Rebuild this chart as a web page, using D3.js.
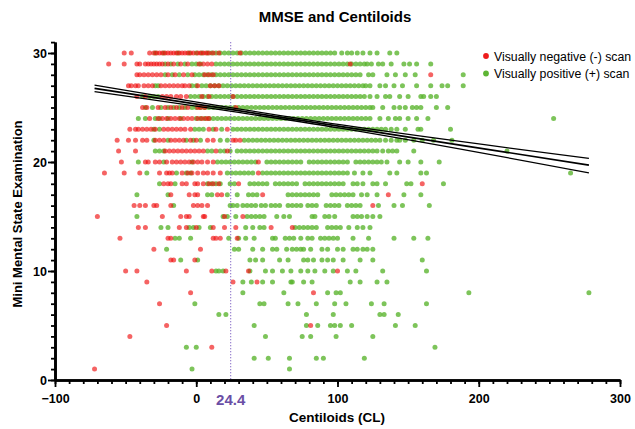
<!DOCTYPE html>
<html>
<head>
<meta charset="utf-8">
<script src="https://cdn.jsdelivr.net/npm/d3@7"></script>
<style>
  body { margin: 0; background: #fff; }
  text { font-family: "Liberation Sans", Arial, sans-serif; }
</style>
</head>
<body>
<script>
// MMSE score rows, each with the centiloid values
// Visually negative (-) scans
var negRows = [
  [30, [-51, -46, -33, -30, -28, -26, -24, -22, -20, -18, -16, -14, -12, -10, -8, -6, -4, -2, 1, 3, 5, 7, 9, 12, 16, 31]],
  [29, [-62, -51, -42, -40, -36, -34, -32, -30, -28, -26, -24, -20, -16, -11, -6, 2, 5, 8, 11, 109]],
  [28, [-42, -40, -37, -34, -31, -28, -25, -20, -15, -9, -3, 6, 9, 12, 166]],
  [27, [-48, -46, -43, -41, -37, -34, -31, -25, -22, -19, -16, -13, -10, -8, -5, 1, 10, 13, 16]],
  [26, [-42, -36, -24, -21, -18, -14, -11, -7, 4, 9, 26]],
  [25, [-38, -35, -27, -22, -18, -14, -10, -6, 1, 3, 6, 28]],
  [24, [-33, -27, -24, -21, -18, -15, -12, -9, -6, -3, 1, 4, 7, 9]],
  [23, [-47, -43, -41, -38, -35, -32, -29, -23, -20, -17, -14, -11, -8, -4, 9, 14, 22]],
  [22, [-56, -48, -43, -38, -35, -29, -26, -23, -18, -15, -12, -9, -4, 0, 8, 12, 26, 28, 31]],
  [21, [-55, -43, -22, -19, -16, -13, -10, -7, -4, -1, 2, 5, 14, 22]],
  [20, [-53, -36, -34, -29, -26, -21, -17, -14, -11, -8, -5, -2, 1, 4, 8, 12, 44]],
  [19, [-65, -51, -40, -26, -21, -19, -17, -10, -6, -3, 1, 5, 8, 12, 17, 44]],
  [18, [-23, -20, -18, -10, -7, -1, 1, 5, 9, 12, 16, 30, 160]],
  [17, [-18, -5, -1, 1, 15, 18, 47, 136]],
  [16, [-44, -40, -36, -30, -28, -18, -2, 1, 4, 8, 125]],
  [15, [-70, -24, -11, -7, -5, 5, 6, 20, 33]],
  [14, [-41, -36, -12, -7, 0, 12, 20, 28, 53, 68]],
  [13, [-54, -20, -18, 12, 14, 17, 29]],
  [12, [-30, 3]],
  [11, [-18, -16, -1]],
  [10, [-50, -42, -7, 11, 21, 37, 100]],
  [9, [-35, 26, 43]],
  [8, [-4, 83]],
  [7, [-26]],
  [5, [-21, 81]],
  [4, [-47]],
  [3, [11]],
  [1, [-72]]
];

// Visually positive (+) scans
var posRows = [
  [30, [-29, -23, -13, -5, 0, 4, 8, 11, 14, 17, 20, 23, 26, 29, 32, 35, 38, 41, 44, 47, 50, 53, 56, 59, 62, 65, 68, 71, 74, 77, 80, 83, 86, 89, 92, 95, 98, 103, 107, 110, 114, 118, 123, 128, 137, 142]],
  [29, [-22, -18, -13, -8, -3, 0, 3, 14, 17, 20, 23, 26, 29, 32, 35, 38, 41, 44, 47, 50, 53, 56, 59, 62, 65, 68, 71, 74, 77, 80, 83, 86, 89, 92, 95, 98, 101, 104, 107, 110, 113, 116, 119, 121, 124, 129, 132, 138, 147, 151, 156, 166]],
  [28, [-22, -17, -12, -6, -1, 2, 5, 8, 11, 14, 17, 20, 23, 26, 29, 32, 35, 38, 41, 44, 47, 50, 53, 56, 59, 62, 65, 68, 71, 74, 77, 80, 83, 86, 89, 92, 95, 98, 101, 104, 107, 110, 113, 116, 122, 125, 135, 141, 148, 155, 189]],
  [27, [-29, -27, -3, 0, 4, 7, 10, 13, 16, 19, 22, 25, 28, 31, 34, 37, 40, 43, 46, 49, 52, 55, 58, 61, 64, 67, 70, 73, 76, 79, 82, 85, 88, 91, 94, 97, 100, 103, 106, 109, 112, 115, 118, 120, 123, 130, 134, 140, 146, 156, 166, 174, 178, 189]],
  [26, [-38, -33, -30, -27, -4, -1, 2, 5, 8, 11, 14, 17, 20, 23, 26, 29, 32, 35, 38, 41, 44, 47, 50, 53, 56, 59, 62, 65, 68, 71, 74, 77, 80, 83, 86, 89, 92, 95, 98, 101, 104, 107, 110, 113, 116, 119, 123, 128, 134, 137, 144, 150, 159, 161, 166, 170]],
  [25, [-36, -31, -25, -20, -16, -12, -8, -3, 0, 3, 6, 9, 12, 15, 18, 21, 24, 27, 30, 33, 36, 39, 42, 45, 48, 51, 54, 57, 60, 63, 66, 69, 72, 75, 78, 81, 84, 87, 90, 93, 96, 99, 102, 105, 108, 111, 114, 117, 120, 123, 125, 132, 140, 144, 148, 153, 156, 159, 170, 178]],
  [24, [-41, -36, -29, -26, -20, -11, 0, 3, 6, 9, 12, 15, 18, 21, 24, 27, 30, 33, 36, 39, 42, 45, 48, 51, 54, 57, 60, 63, 66, 69, 72, 75, 78, 81, 84, 87, 90, 93, 96, 99, 102, 105, 108, 111, 114, 117, 120, 123, 130, 136, 141, 144, 150, 156, 164, 253]],
  [23, [-30, -26, -1, 2, 5, 12, 18, 26, 29, 32, 35, 38, 41, 44, 47, 50, 53, 56, 59, 62, 65, 68, 71, 74, 77, 80, 83, 86, 89, 92, 95, 98, 101, 104, 107, 110, 113, 116, 119, 122, 125, 128, 131, 134, 138, 142, 148, 157, 159, 180]],
  [22, [-30, -20, -7, -2, 3, 17, 22, 34, 37, 40, 43, 46, 49, 52, 55, 58, 61, 64, 67, 70, 73, 76, 79, 82, 85, 88, 91, 94, 97, 100, 103, 106, 109, 112, 115, 118, 121, 124, 127, 130, 134, 138, 142, 144, 148, 154, 160, 168, 181]],
  [21, [-29, -26, -23, 8, 11, 17, 20, 24, 29, 32, 35, 38, 41, 44, 47, 50, 53, 56, 59, 62, 65, 68, 71, 74, 77, 80, 83, 86, 89, 92, 95, 98, 101, 104, 107, 110, 113, 116, 119, 122, 125, 128, 132, 136, 139, 142, 154, 220]],
  [20, [-41, -23, -3, 15, 18, 21, 24, 27, 30, 33, 36, 39, 42, 50, 53, 56, 59, 62, 65, 68, 71, 74, 80, 83, 86, 89, 92, 95, 98, 101, 104, 107, 113, 116, 119, 122, 125, 128, 131, 135, 144, 150, 159, 172]],
  [19, [-35, -14, -7, -4, 22, 25, 28, 31, 34, 37, 40, 47, 50, 53, 56, 59, 62, 65, 68, 71, 74, 77, 80, 83, 86, 89, 92, 95, 98, 101, 104, 107, 112, 118, 123, 137, 142, 159, 163, 265]],
  [18, [-26, -15, 8, 11, 14, 17, 24, 27, 38, 41, 44, 47, 50, 56, 59, 62, 65, 68, 71, 77, 80, 83, 86, 89, 92, 95, 98, 101, 104, 111, 114, 118, 125, 128, 134, 149, 152, 175]],
  [17, [-42, -20, 8, 11, 22, 29, 37, 40, 43, 65, 68, 71, 74, 77, 80, 83, 86, 96, 99, 102, 105, 108, 111, 117, 121, 128, 147, 159]],
  [16, [-16, 24, 26, 29, 33, 36, 39, 42, 46, 49, 53, 56, 59, 65, 68, 71, 74, 79, 82, 85, 92, 95, 98, 101, 107, 110, 113, 116, 129, 140, 146, 165]],
  [15, [-42, 19, 22, 28, 36, 39, 42, 45, 48, 57, 62, 66, 82, 84, 91, 94, 98, 111, 114, 117, 121, 125, 130]],
  [14, [-25, -20, -5, -2, 2, 10, 35, 40, 45, 48, 70, 73, 76, 79, 82, 85, 93, 96, 99, 102, 108, 114, 118, 123]],
  [13, [-15, -12, -4, 23, 30, 35, 41, 54, 56, 63, 66, 69, 74, 79, 82, 88, 91, 94, 97, 100, 111, 122, 140, 154, 164]],
  [12, [-21, 27, 30, 40, 47, 54, 57, 64, 68, 71, 74, 76, 81, 89, 93, 100, 104, 111, 114, 118, 121, 125]],
  [11, [-11, 1, 38, 42, 47, 59, 65, 76, 79, 83, 89, 93, 97, 104, 116, 125, 160]],
  [10, [14, 16, 19, 38, 49, 54, 61, 67, 74, 79, 84, 91, 97, 107, 113, 132, 163]],
  [9, [33, 39, 47, 54, 67, 68, 76, 82, 109, 116, 128, 135]],
  [8, [33, 62, 93, 99, 102, 193, 278]],
  [7, [-1, 45, 48, 65, 72, 85, 98, 106, 124, 133, 163]],
  [6, [16, 21, 78, 97, 130, 133, 143]],
  [5, [41, 78, 86, 95, 98, 102, 110, 141, 155]],
  [4, [49, 75, 81, 99, 125]],
  [3, [-7, 0, 169]],
  [2, [41, 51, 66, 85, 90, 119]],
  [1, [-3, 66]]
];

// Linear fit with its 95% confidence band
var fitX = [-72, 103, 278];
var fitMid = [26.76, 23.24, 19.72];
var fitHi = [27.06, 23.40, 20.34];
var fitLo = [26.45, 23.08, 19.00];

var xTicks = [-100, 0, 100, 200, 300];
var yTicks = [0, 10, 20, 30];
var cutoff = 24.4;

var legendItems = [
  {label: 'Visually negative (-) scan', color: '#ee1c1c'},
  {label: 'Visually positive (+) scan', color: '#5db534'}
];

function flatten(rows) {
  var pts = [];
  rows.forEach(function(r) {
    r[1].forEach(function(cl) { pts.push({mmse: r[0], cl: cl}); });
  });
  return pts;
}

var W = 635, H = 429;
var svg = d3.select('body').append('svg')
  .attr('width', W)
  .attr('height', H);

var x = d3.scaleLinear().domain([-100, 300]).range([55, 620]);
var y = d3.scaleLinear().domain([0, 31]).range([380, 42.1]);

// Title
svg.append('text')
  .attr('x', 335).attr('y', 22)
  .attr('text-anchor', 'middle')
  .style('font-weight', 'bold')
  .style('font-size', '15px')
  .text('MMSE and Centiloids');

// Points: positive first, negative on top
var dots = svg.append('g');
dots.selectAll('circle.pos')
  .data(flatten(posRows))
  .enter().append('circle')
  .attr('class', 'pos')
  .attr('cx', function(d) { return x(d.cl); })
  .attr('cy', function(d) { return y(d.mmse); })
  .attr('r', 2.5)
  .attr('fill', '#58b42c')
  .attr('fill-opacity', 0.78);

dots.selectAll('circle.neg')
  .data(flatten(negRows))
  .enter().append('circle')
  .attr('class', 'neg')
  .attr('cx', function(d) { return x(d.cl); })
  .attr('cy', function(d) { return y(d.mmse); })
  .attr('r', 2.5)
  .attr('fill', '#f01010')
  .attr('fill-opacity', 0.65);

// Cutoff line
svg.append('line')
  .attr('x1', x(cutoff)).attr('x2', x(cutoff))
  .attr('y1', y(31)).attr('y2', y(0))
  .attr('stroke', '#7a5cc0')
  .attr('stroke-width', 1)
  .attr('stroke-dasharray', '1.2,1.8');

// Fit lines
var line = d3.line()
  .x(function(d) { return x(d[0]); })
  .y(function(d) { return y(d[1]); })
  .curve(d3.curveNatural);

[fitHi, fitMid, fitLo].forEach(function(ys, i) {
  svg.append('path')
    .datum(fitX.map(function(v, j) { return [v, ys[j]]; }))
    .attr('d', line)
    .attr('fill', 'none')
    .attr('stroke', '#000')
    .attr('stroke-width', i === 1 ? 1.7 : 1.3);
});

// Axes: minor ticks first, then labelled major ticks
var xMinor = svg.append('g')
  .attr('transform', 'translate(0,380)')
  .call(d3.axisBottom(x).tickValues(d3.range(-100, 301, 10)).tickSize(4).tickSizeOuter(0).tickFormat(''));
var xMajor = svg.append('g')
  .attr('transform', 'translate(0,380)')
  .call(d3.axisBottom(x).tickValues(xTicks).tickSize(7).tickSizeOuter(0).tickFormat(d3.format('d')));

var yMinor = svg.append('g')
  .attr('transform', 'translate(55,0)')
  .call(d3.axisLeft(y).tickValues(d3.range(0, 32, 1)).tickSize(4).tickSizeOuter(0).tickFormat(''));
var yMajor = svg.append('g')
  .attr('transform', 'translate(55,0)')
  .call(d3.axisLeft(y).tickValues(yTicks).tickSize(7).tickSizeOuter(0).tickFormat(d3.format('d')));

[xMinor, xMajor, yMinor, yMajor].forEach(function(g) {
  g.select('.domain').attr('stroke', '#000').attr('stroke-width', 2.6);
  g.selectAll('.tick line').attr('stroke', '#000').attr('stroke-width', 1.8);
  g.selectAll('.tick text')
    .attr('fill', '#000')
    .style('font-family', '"Liberation Sans", Arial, sans-serif')
    .style('font-weight', 'bold')
    .style('font-size', '12.5px');
});
xMajor.selectAll('.tick text').attr('dy', '1.05em');
yMajor.selectAll('.tick text').attr('x', -8);

// Cutoff label
svg.append('text')
  .attr('x', x(cutoff)).attr('y', 405)
  .attr('text-anchor', 'middle')
  .attr('fill', '#6a4ea5')
  .style('font-weight', 'bold')
  .style('font-size', '15px')
  .text(String(cutoff));

// Axis titles
svg.append('text')
  .attr('x', 337).attr('y', 422)
  .attr('text-anchor', 'middle')
  .style('font-weight', 'bold')
  .style('font-size', '13.5px')
  .text('Centiloids (CL)');

svg.append('text')
  .attr('transform', 'translate(22,214) rotate(-90)')
  .attr('text-anchor', 'middle')
  .style('font-weight', 'bold')
  .style('font-size', '13px')
  .text('Mini Mental State Examination');

// Legend
var legend = svg.append('g').selectAll('g')
  .data(legendItems)
  .enter().append('g')
  .attr('transform', function(d, i) { return 'translate(486,' + (56 + i * 17.5) + ')'; });
legend.append('circle')
  .attr('r', 2.9)
  .attr('fill', function(d) { return d.color; });
legend.append('text')
  .attr('x', 8).attr('y', 4.5)
  .style('font-size', '12.3px')
  .text(function(d) { return d.label; });
</script>
</body>
</html>
